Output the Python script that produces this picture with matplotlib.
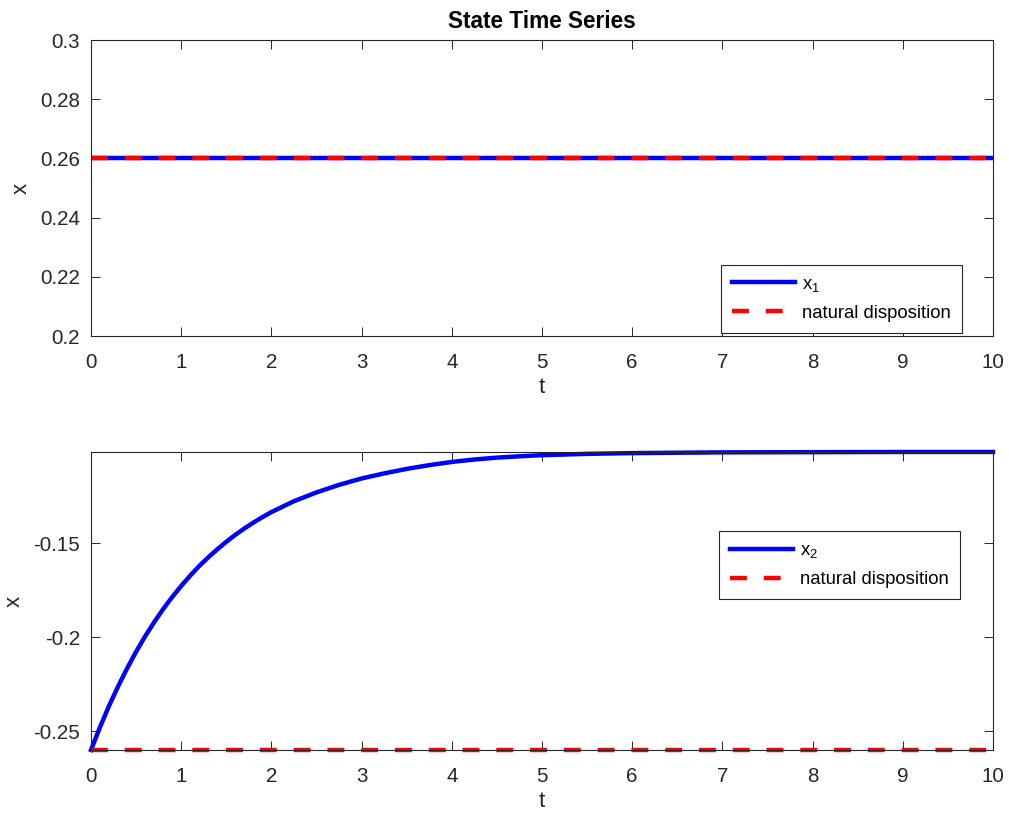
import matplotlib
matplotlib.use("Agg")
import matplotlib.pyplot as plt

plt.rcParams['font.family'] = ['Liberation Sans', 'DejaVu Sans']
plt.rcParams['mathtext.default'] = 'regular'

# time samples and state trajectories
t_const = [0, 10]
x1 = [0.26, 0.26]
x1_natural = [0.26, 0.26]

t = [0.0, 0.1, 0.2, 0.3, 0.4, 0.5, 0.6, 0.7, 0.8, 0.9, 1.0,
     1.1, 1.2, 1.3, 1.4, 1.5, 1.6, 1.7, 1.8, 1.9, 2.0,
     2.25, 2.5, 2.75, 3.0, 3.25, 3.5, 3.75, 4.0, 4.25, 4.5, 4.75, 5.0,
     5.5, 6.0, 6.5, 7.0, 8.0, 9.0, 10.0]
x2 = [-0.2600, -0.2478, -0.2365, -0.2262, -0.2166, -0.2077, -0.1995, -0.1920,
      -0.1850, -0.1786, -0.1727, -0.1672, -0.1621, -0.1575, -0.1532, -0.1492,
      -0.1455, -0.1421, -0.1390, -0.1361, -0.1334, -0.1276, -0.1229, -0.1189,
      -0.1155, -0.1128, -0.1104, -0.1084, -0.1067, -0.1054, -0.1044, -0.1037,
      -0.1031, -0.1024, -0.1020, -0.1018, -0.1016, -0.1015, -0.1014, -0.1014]
x2_natural = [-0.26, -0.26]

x_ticks = list(range(0, 11))
top_yticks = [0.2, 0.22, 0.24, 0.26, 0.28, 0.3]
top_ylabels = ['0.2', '0.22', '0.24', '0.26', '0.28', '0.3']
bot_yticks = [-0.25, -0.2, -0.15]
bot_ylabels = ['-0.25', '-0.2', '-0.15']

AX_COLOR = (0.15, 0.15, 0.15)
LW = 3.2
DASH = (3.8, 3.8)


def style_axes(ax):
    for s in ax.spines.values():
        s.set_color(AX_COLOR)
        s.set_linewidth(0.8)
    ax.tick_params(direction='in', length=6.5, width=0.7, colors=AX_COLOR,
                   labelsize=14.8, top=True, right=True)
    ax.tick_params(axis='x', pad=12)
    ax.tick_params(axis='y', pad=8)
    ax.set_xlim(0, 10)
    ax.set_xticks(x_ticks)
    ax.set_xlabel('t', fontsize=16, color=AX_COLOR, labelpad=4)
    ax.set_ylabel('x', fontsize=16, color=AX_COLOR, labelpad=6)


def add_legend(ax, loc, anchor):
    leg = ax.legend(loc=loc, bbox_to_anchor=anchor, fontsize=13.3,
                    handlelength=3.4, handletextpad=0.4, borderpad=0.6,
                    labelspacing=0.6, fancybox=False, framealpha=1,
                    edgecolor=AX_COLOR, borderaxespad=0)
    leg.get_frame().set_linewidth(0.8)
    return leg


fig = plt.figure(figsize=(10.09, 8.16), dpi=100)
ax1 = fig.add_axes([0.0902, 0.5882, 0.8939, 0.3627])
ax2 = fig.add_axes([0.0902, 0.0809, 0.8939, 0.3652])

# upper panel: x1
ax1.plot(t_const, x1, color='blue', lw=LW, label='x$_1$')
ax1.plot(t_const, x1_natural, color='red', lw=LW, dashes=DASH,
         label='natural disposition')
ax1.set_ylim(0.2, 0.3)
ax1.set_yticks(top_yticks)
ax1.set_yticklabels(top_ylabels)
style_axes(ax1)
ax1.set_title('State Time Series', fontsize=16.3, fontweight='bold', pad=9)
add_legend(ax1, 'lower right', (0.9656, 0.0101))

# lower panel: x2
ax2.plot(t, x2, color='blue', lw=LW, label='x$_2$', clip_on=False,
         solid_joinstyle='round')
ax2.plot(t_const, x2_natural, color='red', lw=LW, dashes=DASH,
         label='natural disposition', clip_on=False)
ax2.set_ylim(-0.26, -0.1014)
ax2.set_yticks(bot_yticks)
ax2.set_yticklabels(bot_ylabels)
style_axes(ax2)
add_legend(ax2, 'upper right', (0.9634, 0.7349))

fig.savefig('out.png', dpi=100)
